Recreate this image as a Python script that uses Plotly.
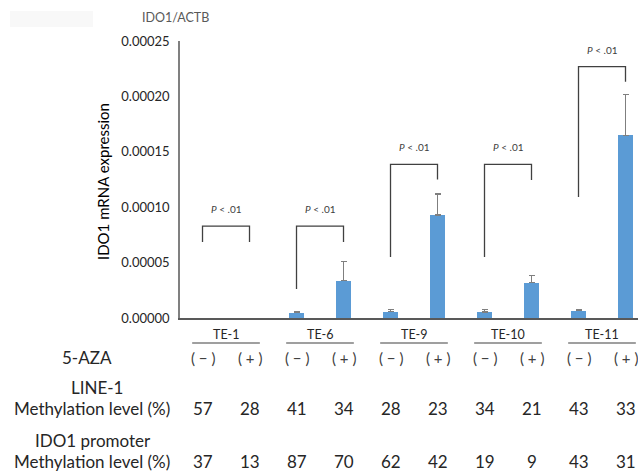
import plotly.graph_objects as go

# Cell lines and 5-AZA treatment
cell_lines = ["TE-1", "TE-6", "TE-9", "TE-10", "TE-11"]
treatments = ["( − )", "( + )"]

# IDO1/ACTB relative mRNA expression (mean and SD); TE-1 not detected
expr_minus = [None, 0.0000048, 0.0000057, 0.0000054, 0.0000066]
err_minus = [0.0, 0.0000012, 0.0000018, 0.0000024, 0.0000012]
expr_plus = [None, 0.0000337, 0.000093, 0.0000319, 0.000165]
err_plus = [0.0, 0.0000174, 0.000019, 0.0000065, 0.000037]

# Methylation levels (%)
line1_minus = [57, 41, 28, 34, 43]
line1_plus = [28, 34, 23, 21, 33]
ido1_minus = [37, 87, 62, 19, 43]
ido1_plus = [13, 70, 42, 9, 31]

# Significance brackets: top level and foot levels (data units)
bracket_top = [0.000083, 0.000083, 0.0001387, 0.0001387, 0.0002268]
bracket_left = [0.0000686, 0.0000262, 0.000055, 0.000055, 0.0001092]
bracket_right = [0.0000686, 0.0000686, 0.000125, 0.0001245, 0.0002133]
p_label = "<i>P</i> < .01"

y_ticks = [0, 0.00005, 0.0001, 0.00015, 0.0002, 0.00025]

FONT = "Lato"
BLUE = "#5B9BD5"
DARK = "#262626"

# Layout geometry (pixels)
W, H = 638, 471
L, R, T, B = 180, 0, 41, 153
PW, PH = W - L - R, H - T - B


def px(x):
    return (x - L) / PW


def py(y):
    return (H - B - y) / PH


n = len(cell_lines)
x_minus = [2 * i for i in range(n)]
x_plus = [2 * i + 1 for i in range(n)]
x_all = [v for pair in zip(x_minus, x_plus) for v in pair]

fig = go.Figure()

bar_w = 0.32
for xs, ys, errs in [(x_minus, expr_minus, err_minus), (x_plus, expr_plus, err_plus)]:
    fig.add_trace(go.Bar(
        x=xs, y=ys, width=bar_w, marker_color=BLUE, marker_line_width=0,
        error_y=dict(type="data", array=errs, arrayminus=[0] * len(errs),
                     symmetric=False, visible=True, color="#7f7f7f", thickness=1.2, width=3),
        showlegend=False, hoverinfo="skip",
    ))

# Brackets with P-value labels
for i in range(n):
    x0, x1 = x_minus[i], x_plus[i]
    fig.add_trace(go.Scatter(
        x=[x0, x0, x1, x1],
        y=[bracket_left[i], bracket_top[i], bracket_top[i], bracket_right[i]],
        mode="lines", line=dict(color="#404040", width=1.3),
        showlegend=False, hoverinfo="skip",
    ))
    fig.add_annotation(
        x=(x0 + x1) / 2, y=bracket_top[i], xref="x", yref="y",
        text=p_label, showarrow=False, yanchor="bottom", yshift=9,
        font=dict(family=FONT, size=10, color="#404040"),
    )

# Cell-line labels with underlines
for i, name in enumerate(cell_lines):
    xc = (x_minus[i] + x_plus[i]) / 2
    fig.add_annotation(
        x=xc, y=py(334), xref="x", yref="paper", text=name, showarrow=False,
        yanchor="middle", font=dict(family=FONT, size=12.5, color=DARK),
    )
    fig.add_shape(
        type="line", xref="x", yref="paper",
        x0=x_minus[i] - 0.22, x1=x_plus[i] + 0.22, y0=py(343), y1=py(343),
        line=dict(color="#404040", width=1.2),
    )

# Table rows beneath the chart
rows = [
    (358, [t for _ in cell_lines for t in treatments], 15, "#404040"),
    (408, [v for pair in zip(line1_minus, line1_plus) for v in pair], 17, DARK),
    (462, [v for pair in zip(ido1_minus, ido1_plus) for v in pair], 17, DARK),
]
for ypix, values, size, color in rows:
    for xv, val in zip(x_all, values):
        fig.add_annotation(
            x=xv, y=py(ypix), xref="x", yref="paper", text=str(val), showarrow=False,
            yanchor="middle", font=dict(family=FONT, size=size, color=color),
        )

row_labels = [
    ("5-AZA", 87, 357),
    ("LINE-1", 97, 387),
    ("Methylation level (%)", 92, 408),
    ("IDO1 promoter", 93, 440),
    ("Methylation level (%)", 92, 462),
]
for text, xpix, ypix in row_labels:
    fig.add_annotation(
        x=px(xpix), y=py(ypix), xref="paper", yref="paper", text=text, showarrow=False,
        xanchor="center", yanchor="middle", font=dict(family=FONT, size=17, color=DARK),
    )

# Axis titles
fig.add_annotation(
    x=px(175), y=py(18), xref="paper", yref="paper", text="IDO1/ACTB", showarrow=False,
    xanchor="center", yanchor="middle", font=dict(family=FONT, size=12.5, color="#595959"),
)
fig.add_annotation(
    x=px(103), y=py(182), xref="paper", yref="paper", text="IDO1 mRNA expression",
    showarrow=False, textangle=-90, xanchor="center", yanchor="middle",
    font=dict(family=FONT, size=15, color="#000000"),
)

# Faint box in the top-left corner
fig.add_shape(
    type="rect", xref="paper", yref="paper",
    x0=px(10), x1=px(93), y0=py(27), y1=py(11),
    fillcolor="#f8f8f8", line_width=0, layer="below",
)

fig.update_layout(
    width=W, height=H,
    margin=dict(l=L, r=R, t=T, b=B),
    plot_bgcolor="white", paper_bgcolor="white",
    bargap=0, barmode="overlay",
    font=dict(family=FONT),
)
fig.update_xaxes(
    range=[-0.479, 9.266], showticklabels=False, ticks="", showgrid=False, zeroline=False,
    showline=True, linecolor="#595959", linewidth=1.5,
)
fig.update_yaxes(
    range=[0, 0.00025], tickvals=y_ticks, tickformat=".5f", ticks="", showgrid=False,
    zeroline=False, showline=True, linecolor="#808080", linewidth=1.5,
    tickfont=dict(family=FONT, size=13, color=DARK), ticklabelstandoff=6,
)

fig.write_html("out.html")
